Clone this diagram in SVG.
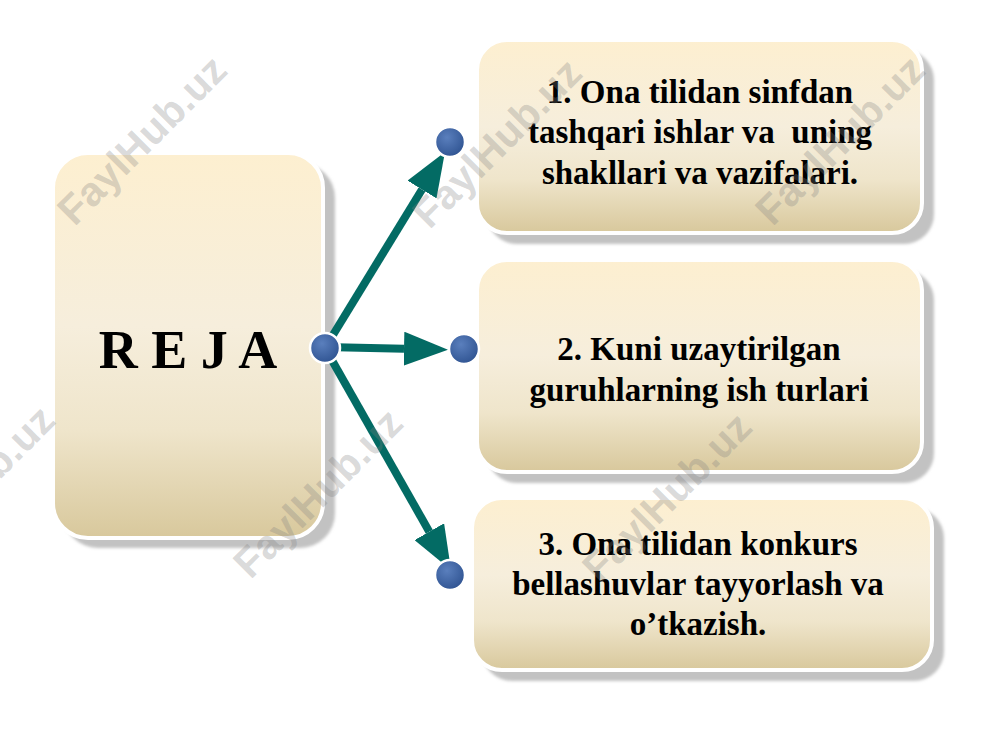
<svg xmlns="http://www.w3.org/2000/svg" width="1000" height="750" viewBox="0 0 1000 750">
  <defs>
    <linearGradient id="boxGrad" x1="0" y1="0" x2="0" y2="1">
      <stop offset="0" stop-color="#fdefd0"/>
      <stop offset="0.45" stop-color="#f6eedc"/>
      <stop offset="0.72" stop-color="#efe5cb"/>
      <stop offset="1" stop-color="#d8c89c"/>
    </linearGradient>
    <radialGradient id="dotGrad" cx="0.4" cy="0.35" r="0.7">
      <stop offset="0" stop-color="#5a7fbd"/>
      <stop offset="1" stop-color="#2e5290"/>
    </radialGradient>
    <filter id="soft" x="-5%" y="-5%" width="110%" height="110%">
      <feGaussianBlur stdDeviation="1.5"/>
    </filter>
    <marker id="arrow" viewBox="0 0 44 34" refX="0" refY="17" markerWidth="44" markerHeight="34" markerUnits="userSpaceOnUse" orient="auto">
      <path d="M0,0 L44,17 L0,34 Z" fill="#036b64"/>
    </marker>
    <style>
      .shadow { fill: #c2c2c2; filter: url(#soft); }
      .box { fill: url(#boxGrad); stroke: #ffffff; stroke-width: 4; }
      .label { font-family: "Liberation Serif", "Times New Roman", serif; font-weight: bold; font-size: 33px; fill: #000000; text-anchor: middle; }
      .title { font-family: "Liberation Serif", "Times New Roman", serif; font-weight: bold; font-size: 54px; fill: #000000; text-anchor: middle; }
      .conn { stroke: #036b64; stroke-width: 8; fill: none; marker-end: url(#arrow); }
      .dot { fill: url(#dotGrad); stroke: #ffffff; stroke-width: 2.5; }
      .wm { font-family: "Liberation Sans", Arial, sans-serif; font-weight: bold; font-size: 41px; fill: #808080; fill-opacity: 0.3; text-anchor: middle; dominant-baseline: central; }
    </style>
  </defs>

  <rect width="1000" height="750" fill="#ffffff"/>

  <g id="node-reja">
    <rect class="shadow" x="63" y="163" width="272" height="385" rx="35"/>
    <rect class="box" x="53" y="153" width="270" height="385" rx="35"/>
    <text class="title" x="188" y="368">R E J A</text>
  </g>

  <g id="node-1">
    <rect class="shadow" x="487" y="50" width="447" height="194" rx="30"/>
    <rect class="box" x="477" y="40" width="445" height="193" rx="30"/>
    <text class="label" x="700" y="103">1. Ona tilidan sinfdan</text>
    <text class="label" x="700" y="143" xml:space="preserve">tashqari ishlar va  uning</text>
    <text class="label" x="700" y="184">shakllari va vazifalari.</text>
  </g>

  <g id="node-2">
    <rect class="shadow" x="487" y="270" width="447" height="213" rx="30"/>
    <rect class="box" x="477" y="260" width="445" height="212" rx="30"/>
    <text class="label" x="699" y="360">2. Kuni uzaytirilgan</text>
    <text class="label" x="699" y="401">guruhlarning ish turlari</text>
  </g>

  <g id="node-3">
    <rect class="shadow" x="482" y="508" width="462" height="173" rx="30"/>
    <rect class="box" x="472" y="498" width="460" height="172" rx="30"/>
    <text class="label" x="698" y="555">3. Ona tilidan konkurs</text>
    <text class="label" x="698" y="595">bellashuvlar tayyorlash va</text>
    <text class="label" x="698" y="635">o’tkazish.</text>
  </g>

  <g id="connectors">
    <line class="conn" x1="325" y1="348" x2="422" y2="189.5"/>
    <line class="conn" x1="325" y1="347" x2="404" y2="348.7"/>
    <line class="conn" x1="325" y1="348" x2="429.3" y2="531.7"/>
  </g>

  <g id="dots">
    <circle class="dot" cx="325" cy="348" r="15"/>
    <circle class="dot" cx="450" cy="142" r="15"/>
    <circle class="dot" cx="464" cy="349" r="15"/>
    <circle class="dot" cx="450" cy="575" r="15"/>
  </g>

  <g id="watermarks">
    <text class="wm" transform="translate(142,140) rotate(-45)">FaylHub.uz</text>
    <text class="wm" transform="translate(497,143) rotate(-45)">FaylHub.uz</text>
    <text class="wm" transform="translate(840,140) rotate(-45)">FaylHub.uz</text>
    <text class="wm" transform="translate(-30,490) rotate(-45)">FaylHub.uz</text>
    <text class="wm" transform="translate(318,493) rotate(-45)">FaylHub.uz</text>
    <text class="wm" transform="translate(667,497) rotate(-45)">FaylHub.uz</text>
  </g>
</svg>
